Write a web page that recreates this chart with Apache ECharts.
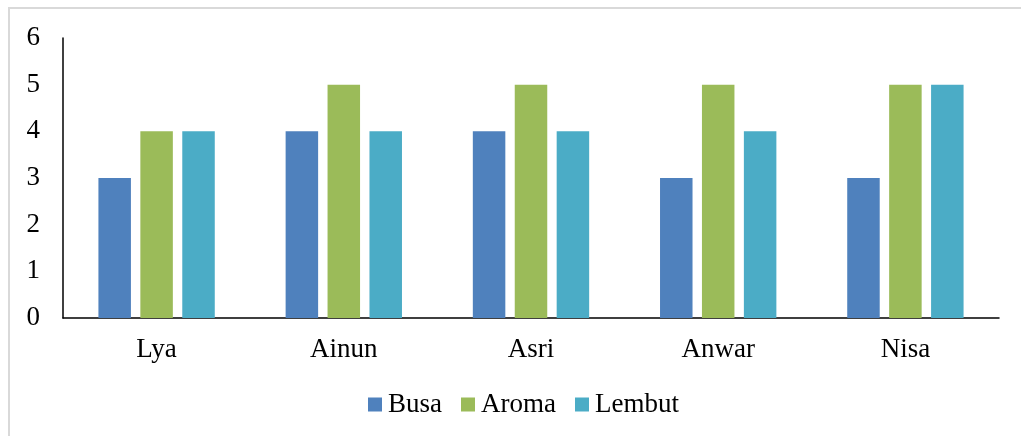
<!DOCTYPE html>
<html><head><meta charset="utf-8">
<script src="https://cdn.jsdelivr.net/npm/echarts@6/dist/echarts.min.js"></script>
<style>html,body{margin:0;padding:0;background:#fff}#c{width:1021px;height:436px}</style>
</head><body><div id="c"></div>
<script>
const categories = ['Lya', 'Ainun', 'Asri', 'Anwar', 'Nisa'];
const busa = [3, 4, 4, 3, 3];
const aroma = [4, 5, 5, 5, 5];
const lembut = [4, 4, 4, 4, 5];
const yTicks = [0, 1, 2, 3, 4, 5, 6];

const font = '"Liberation Serif", "Times New Roman", serif';
const chart = echarts.init(document.getElementById('c'));
chart.setOption({
  animation: false,
  textStyle: { fontFamily: font },
  graphic: [{
    type: 'rect', silent: true,
    shape: { x: 9, y: 8, width: 1040, height: 460 },
    style: { fill: 'none', stroke: '#d9d9d9', lineWidth: 2 }
  }],
  grid: { left: 63, top: 38, right: 22, bottom: 118, containLabel: false },
  legend: {
    left: 368, top: 391, padding: 0,
    itemWidth: 14, itemHeight: 14, itemGap: 19,
    icon: 'rect',
    textStyle: { fontFamily: font, fontSize: 27, color: '#000', padding: [0, 0, 0, 1] },
    data: ['Busa', 'Aroma', 'Lembut']
  },
  xAxis: {
    type: 'category', data: categories,
    axisLine: { lineStyle: { color: '#000', width: 1.5 } },
    axisTick: { show: false },
    axisLabel: { fontFamily: font, fontSize: 27, color: '#000', margin: 18 }
  },
  yAxis: {
    type: 'value', min: yTicks[0], max: yTicks[yTicks.length - 1], interval: 1,
    axisLine: { show: true, lineStyle: { color: '#000', width: 1.5 } },
    axisTick: { show: false },
    splitLine: { show: false },
    axisLabel: { fontFamily: font, fontSize: 27, color: '#000', margin: 23 }
  },
  series: [
    { name: 'Busa', type: 'bar', data: busa, barWidth: 32.5, barGap: '29%', itemStyle: { color: '#4F81BD' } },
    { name: 'Aroma', type: 'bar', data: aroma, barWidth: 32.5, barGap: '29%', itemStyle: { color: '#9BBB59' } },
    { name: 'Lembut', type: 'bar', data: lembut, barWidth: 32.5, barGap: '29%', itemStyle: { color: '#4BACC6' } }
  ]
});
</script></body></html>
